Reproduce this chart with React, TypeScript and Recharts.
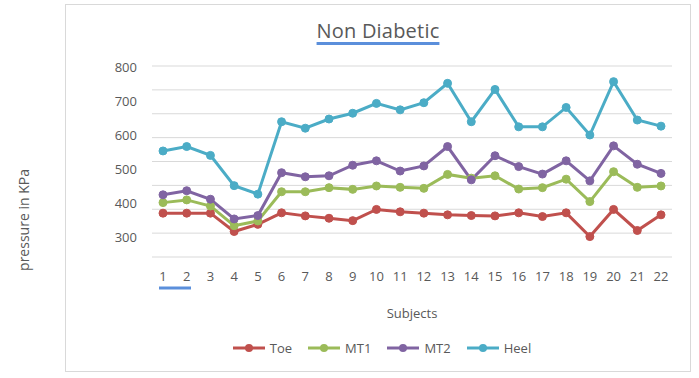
import React from 'react';
import { LineChart, Line, XAxis, YAxis, CartesianGrid, Legend } from 'recharts';

const subjects = ['1','2','3','4','5','6','7','8','9','10','11','12','13','14','15','16','17','18','19','20','21','22'];
const toe = [370,370,370,316,337,371,362,355,348,381,374,370,365,363,362,371,360,371,301,381,319,365];
const mt1 = [401,409,391,333,347,433,433,445,440,450,446,443,484,473,480,441,445,470,404,492,446,450];
const mt2 = [424,436,411,353,363,489,477,480,511,524,494,509,566,468,539,507,485,524,465,568,514,487];
const heel = [553,566,540,451,426,639,620,647,664,693,674,695,752,639,734,624,624,681,600,757,644,626];
const yTicks = [300,400,500,600,700,800];
const yDomain = [241, 803];
const gridCount = 9;
const gridValues = Array.from({ length: gridCount }, (_, i) => yDomain[0] + (i * (yDomain[1] - yDomain[0])) / (gridCount - 1));

const seriesNames = ['Toe','MT1','MT2','Heel'];
const seriesColors = ['#C0504D','#9BBB59','#8064A2','#4BACC6'];
const seriesValues = [toe, mt1, mt2, heel];

const data = subjects.map((s, i) => {
  const row: any = { subject: s };
  seriesNames.forEach((n, k) => { row[n] = seriesValues[k][i]; });
  return row;
});

const FONT = '"Open Sans", "Segoe UI", sans-serif';
const TEXT = '#595959';

const XTick = (props: any) => {
  const { x, y, payload } = props;
  return (
    <g>
      <text x={x} y={y} dy="0.71em" textAnchor="middle" fill={TEXT} fontSize={13} fontFamily={FONT}>{payload.value}</text>
      {payload.value === '1' ? <line x1={x - 4} x2={x + 28} y1={y + 16} y2={y + 16} stroke="#5B8FDB" strokeWidth={3} /> : null}
    </g>
  );
};

const LegendContent = () => (
  <div style={{ display: 'flex', justifyContent: 'center', alignItems: 'center', height: 20, fontFamily: FONT, fontSize: 13, color: TEXT }}>
    {seriesNames.map((n, k) => (
      <div key={n} style={{ display: 'flex', alignItems: 'center', marginRight: k < 3 ? 16 : 0 }}>
        <svg width={32} height={10} style={{ marginRight: 5 }}>
          <line x1={0} x2={32} y1={5} y2={5} stroke={seriesColors[k]} strokeWidth={3} />
          <circle cx={16} cy={5} r={4} fill={seriesColors[k]} />
        </svg>
        <span>{n}</span>
      </div>
    ))}
  </div>
);

export default function App() {
  return (
    <div style={{ position: 'absolute', left: 0, top: 0, width: 699, height: 378, background: '#fff', fontFamily: FONT }}>
      <div style={{ position: 'absolute', left: 65, top: 4, width: 626, height: 368, border: '1px solid #d9d9d9', boxSizing: 'border-box' }} />
      <div style={{ position: 'absolute', left: 65, top: 17, width: 626, textAlign: 'center', fontSize: 20, color: TEXT, fontFamily: FONT, letterSpacing: 0.2 }}>
        <span style={{ textDecoration: 'underline', textDecorationColor: '#5B8FDB', textDecorationThickness: 3, textUnderlineOffset: 4 }}>Non Diabetic</span>
      </div>
      <div style={{ position: 'absolute', left: 23, top: 220, transform: 'translate(-50%, -50%) rotate(-90deg)', whiteSpace: 'nowrap', fontSize: 14, color: TEXT, fontFamily: FONT }}>
        pressure in KPa
      </div>
      <div style={{ position: 'absolute', left: 0, top: 0 }}>
        <LineChart width={699} height={378} data={data} margin={{ top: 66, right: 27, bottom: 20, left: 92 }}>
          <CartesianGrid yAxisId="val" vertical={false} stroke="#d9d9d9" strokeWidth={1} horizontalValues={gridValues} />
          <XAxis dataKey="subject" height={81} axisLine={false} tickLine={false} tickSize={0} tickMargin={15} interval={0}
            padding={{ left: 11, right: 11 }} tick={<XTick />}
            label={{ value: 'Subjects', position: 'insideBottom', offset: 20, fill: TEXT, fontSize: 13, fontFamily: FONT }} />
          <YAxis yAxisId="val" width={60} domain={yDomain} ticks={yTicks} axisLine={false} tickLine={false} tickSize={0} tickMargin={15}
            tick={{ fill: TEXT, fontSize: 13, fontFamily: FONT }} allowDataOverflow />
          <Legend verticalAlign="bottom" height={20} content={<LegendContent />} />
          {seriesNames.map((n, k) => (
            <Line key={n} yAxisId="val" dataKey={n} stroke={seriesColors[k]} strokeWidth={3}
              dot={{ r: 4, fill: seriesColors[k], stroke: seriesColors[k], strokeWidth: 1 }}
              isAnimationActive={false} />
          ))}
        </LineChart>
      </div>
    </div>
  );
}
